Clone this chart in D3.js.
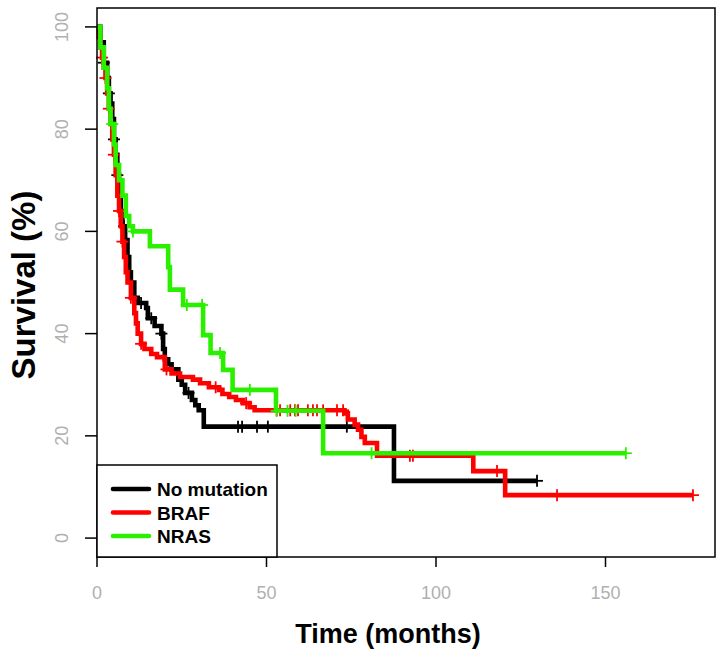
<!DOCTYPE html>
<html lang="en">
<head>
    <meta charset="UTF-8">
    <title>Survival by mutation</title>
    <script src="https://d3js.org/d3.v7.min.js"></script>
    <style>
        body { margin: 0; background: #fff; font-family: Arial, "Liberation Sans", sans-serif; }
        svg { display: block; }
        .tick-label { fill: #b0b0b0; font-size: 18px; }
        .axis-title { font-weight: bold; fill: #000; }
        .legend-text { font-weight: bold; font-size: 19px; fill: #000; }
    </style>
</head>
<body>
    <svg width="724" height="657"></svg>

    <script>
        // Kaplan-Meier steps: time (months) where the curve drops, and survival (%) after it
        const noMutTime = [0, 1, 2, 3, 3.5, 4, 4.5, 5, 5.5, 6, 6.5, 7, 7.5, 8.3, 9, 9.5, 10, 11, 12, 14.5, 15, 17, 19, 19.5, 20, 21, 22, 24, 25, 26, 28, 29, 30, 31.5, 87.6, 129.8];
        const noMutSurv = [100, 97, 93, 90, 87, 85, 82, 78, 75, 71, 67, 64, 61, 58.3, 55, 52, 50, 47, 46, 45, 43, 41.5, 40, 37, 35, 34, 33, 31, 30, 28.4, 27, 26, 25, 21.8, 11.2, 11.2];
        const noMutCensor = [2, 3.5, 5, 6, 8, 11, 13, 16, 19, 27, 41.6, 42.8, 47.2, 50.4, 73.7, 129.8];

        const brafTime = [0, 0.5, 1, 1.5, 2, 2.5, 3, 3.5, 4, 4.5, 5, 5.5, 6, 6.5, 7, 7.5, 8, 8.5, 9, 10, 11, 11.5, 12, 13, 14, 16, 17.7, 20, 22, 24.5, 28.3, 30.4, 33, 36, 37, 39, 41, 43, 45, 46.5, 73, 74, 76, 77, 78, 79, 82.6, 111, 120.4, 175.8];
        const brafSurv = [100, 98, 96, 94, 92, 90, 87, 84, 81, 78, 75, 71, 67, 64, 61, 58, 55, 52, 50, 47, 44, 42, 40, 38, 37, 36, 35.4, 33, 32.2, 31.5, 31, 30.3, 29.5, 29, 28.2, 27.6, 27, 26.4, 25.6, 25, 24.4, 23.2, 22.2, 21.2, 19.8, 18.6, 16.1, 13.1, 8.4, 8.4];
        const brafCensor = [1.5, 2.5, 3.5, 5, 6.5, 7.5, 10, 13, 20.5, 35, 44, 53, 54, 57, 58.4, 59.3, 62.2, 63.7, 64.9, 66.7, 70.8, 72.6, 92.3, 93.2, 118, 135.7, 175.8];

        const nrasTime = [0, 1, 2, 3, 3.5, 4, 5, 5.5, 6.5, 7.5, 8.5, 9.5, 10.6, 15.6, 21, 21.5, 25.4, 31.3, 33.5, 37.2, 40, 52.8, 66.7, 156];
        const nrasSurv = [100, 96, 92, 88, 84, 81, 77, 73, 70, 67, 63, 61, 60, 57.1, 53, 48.6, 45.6, 39.7, 36.2, 32.9, 29, 24.9, 16.6, 16.6];
        const nrasCensor = [4.5, 10.6, 26.5, 31, 36.3, 45.1, 53, 56.2, 58.6, 81, 156];

        const groupNames = ["No mutation", "BRAF", "NRAS"];
        const groupColors = ["#000000", "#ff0000", "#2af000"];

        const xTicks = [0, 50, 100, 150];
        const yTicks = [0, 20, 40, 60, 80, 100];

        const svg = d3.select("svg");
        const plotL = 97, plotR = 715, plotT = 8, plotB = 557;

        const x = d3.scaleLinear().domain([0, 182.3]).range([plotL, plotR]);
        const y = d3.scaleLinear().domain([-3.7, 103.7]).range([plotB, plotT]);

        const groups = [
            { time: noMutTime, surv: noMutSurv, censor: noMutCensor },
            { time: brafTime, surv: brafSurv, censor: brafCensor },
            { time: nrasTime, surv: nrasSurv, censor: nrasCensor }
        ];

        // survival value of a step curve at time t
        function survAt(g, t) {
            let s = g.surv[0];
            for (let i = 0; i < g.time.length; i++) {
                if (g.time[i] <= t) s = g.surv[i];
            }
            return s;
        }

        const line = d3.line()
            .x(d => x(d[0]))
            .y(d => y(d[1]))
            .curve(d3.curveStepAfter);

        groups.forEach((g, i) => {
            const pts = g.time.map((t, j) => [t, g.surv[j]]);
            const col = groupColors[i];
            svg.append("path")
                .datum(pts)
                .attr("fill", "none")
                .attr("stroke", col)
                .attr("stroke-width", 4.6)
                .attr("d", line);

            g.censor.forEach(t => {
                const cx = x(t), cy = y(survAt(g, t));
                svg.append("line")
                    .attr("x1", cx).attr("x2", cx)
                    .attr("y1", cy - 6).attr("y2", cy + 6)
                    .attr("stroke", col).attr("stroke-width", 1.8);
                svg.append("line")
                    .attr("x1", cx - 6).attr("x2", cx + 6)
                    .attr("y1", cy).attr("y2", cy)
                    .attr("stroke", col).attr("stroke-width", 1.8);
            });
        });

        // plot frame
        svg.append("rect")
            .attr("x", plotL).attr("y", plotT)
            .attr("width", plotR - plotL).attr("height", plotB - plotT)
            .attr("fill", "none").attr("stroke", "#000").attr("stroke-width", 1.5);

        // y axis
        yTicks.forEach(v => {
            svg.append("line")
                .attr("x1", plotL - 12).attr("x2", plotL)
                .attr("y1", y(v)).attr("y2", y(v))
                .attr("stroke", "#000").attr("stroke-width", 1.5);
            svg.append("text")
                .attr("class", "tick-label")
                .attr("transform", `translate(62,${y(v)}) rotate(-90)`)
                .attr("text-anchor", "middle")
                .attr("dominant-baseline", "central")
                .text(v);
        });

        // x axis
        xTicks.forEach(v => {
            svg.append("line")
                .attr("x1", x(v)).attr("x2", x(v))
                .attr("y1", plotB).attr("y2", plotB + 10)
                .attr("stroke", "#000").attr("stroke-width", 1.5);
            svg.append("text")
                .attr("class", "tick-label")
                .attr("x", x(v)).attr("y", 599)
                .attr("text-anchor", "middle")
                .text(v);
        });

        svg.append("text")
            .attr("class", "axis-title")
            .attr("x", 388).attr("y", 643)
            .attr("text-anchor", "middle")
            .style("font-size", "27px")
            .text("Time (months)");

        svg.append("text")
            .attr("class", "axis-title")
            .attr("transform", "translate(35,285) rotate(-90)")
            .attr("text-anchor", "middle")
            .style("font-size", "33px")
            .text("Survival (%)");

        // legend
        svg.append("rect")
            .attr("x", plotL).attr("y", 465)
            .attr("width", 180).attr("height", plotB - 465)
            .attr("fill", "#fff").attr("stroke", "#000").attr("stroke-width", 1.5);

        groupNames.forEach((name, i) => {
            const ly = 489 + i * 23.5;
            svg.append("line")
                .attr("x1", 113).attr("x2", 149)
                .attr("y1", ly).attr("y2", ly)
                .attr("stroke", groupColors[i]).attr("stroke-width", 4.6)
                .attr("stroke-linecap", "round");
            svg.append("text")
                .attr("class", "legend-text")
                .attr("x", 157).attr("y", ly + 7)
                .text(name);
        });
    </script>
</body>
</html>
